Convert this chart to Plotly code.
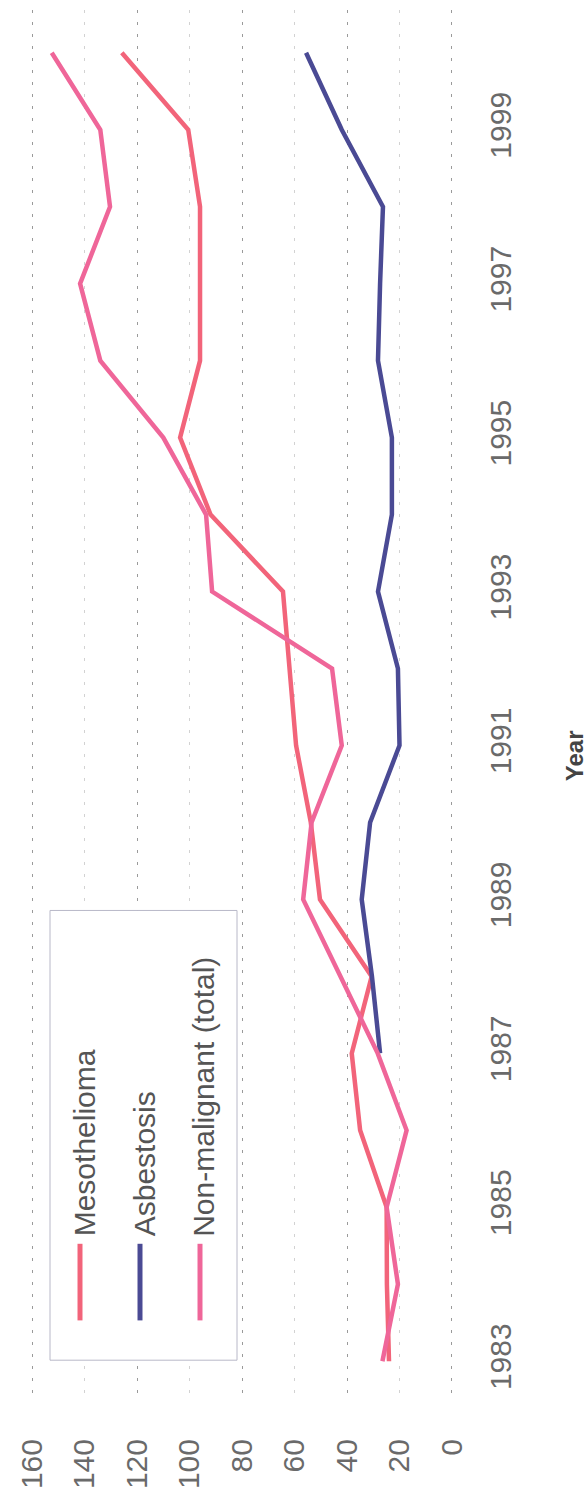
import plotly.graph_objects as go

# ---- data ----
years = list(range(1983, 2001))
mesothelioma = [24, 24.8, 24.9, 35, 38.2, 30.6, 50.3, 53.8, 59.4, 61.7, 64.4, 92,
                103.6, 96, 96, 96, 100.5, 125.8]
asbestosis = [None, None, None, None, 27.4, 30.5, 34.4, 31.2, 20.0, 20.6, 28.2, 22.9,
              22.9, 28.2, 27.4, 26.3, 42, 55.6]
non_malignant = [26.5, 20.6, 24.9, 17.3, 28.3, 42.4, 56.7, 53.5, 42, 45.7, 91.4, 93.7,
                 110, 134, 141.7, 130.3, 134, 152.5]
series_names = ["Mesothelioma", "Asbestosis", "Non-malignant (total)"]
series_colors = ["#F2647A", "#4A4A94", "#EF6699"]
value_ticks = [0, 20, 40, 60, 80, 100, 120, 140, 160]
value_ticks_major = [0, 40, 80, 120, 160]
year_ticks = list(range(1983, 2000, 2))
axis_title = "Year"

W, H = 587, 1499
L, R, T, B = 15, 468, 10, 1407
FONT = "Liberation Sans"

fig = go.Figure()
for name, vals, col in zip(series_names, [mesothelioma, asbestosis, non_malignant], series_colors):
    fig.add_trace(go.Scatter(x=vals, y=years, mode="lines", name=name,
                             line=dict(color=col, width=4.5), showlegend=False,
                             connectgaps=False))
# helper trace for the darker grid axis
fig.add_trace(go.Scatter(x=[None], y=[None], xaxis="x2", yaxis="y", showlegend=False,
                         hoverinfo="skip"))

xrange_ = [166.5, -6.1]
yrange_ = [1982.496, 2000.556]

fig.update_layout(
    width=W, height=H,
    margin=dict(l=L, r=W - R, t=T, b=H - B),
    paper_bgcolor="white", plot_bgcolor="white",
    xaxis=dict(range=xrange_, tickvals=value_ticks, ticktext=[str(v) for v in value_ticks],
               tickangle=-90, showgrid=True, gridcolor="#d2d2d2", griddash="3px,9px",
               gridwidth=1, zeroline=False, showline=False, ticks="",
               ticklabelstandoff=32,
               tickfont=dict(family=FONT, size=30, color="#6a6a6a")),
    xaxis2=dict(range=xrange_, overlaying="x", matches="x", tickvals=value_ticks_major,
                showticklabels=False, showgrid=True, gridcolor="#9a9a9a",
                griddash="3px,9px", gridwidth=1, zeroline=False, showline=False, ticks=""),
    yaxis=dict(range=yrange_, tickvals=year_ticks, side="right", tickangle=-90,
               showgrid=False, zeroline=False, showline=False, ticks="",
               ticklabelstandoff=12,
               tickfont=dict(family=FONT, size=30, color="#6a6a6a")),
)


def px2x(px):
    return (px - L) / (R - L)


def py2y(py):
    return (B - py) / (B - T)


# axis title placed beside the year labels
fig.add_annotation(text="<b>" + axis_title + "</b>", xref="paper", yref="paper",
                   x=px2x(574), y=py2y(760), xanchor="center", yanchor="middle",
                   textangle=-90, showarrow=False,
                   font=dict(family=FONT, size=24, color="#444"))

# legend box (rotated legend drawn by hand)
fig.add_shape(type="rect", xref="paper", yref="paper",
              x0=px2x(50), x1=px2x(237), y0=py2y(1367), y1=py2y(915),
              line=dict(color="#b8b8c8", width=1), fillcolor="white", layer="above")
leg_x_line = [80, 140, 200]
leg_x_text = [84, 144, 204]
for name, col, xl, xt in zip(series_names, series_colors, leg_x_line, leg_x_text):
    fig.add_shape(type="line", xref="paper", yref="paper",
                  x0=px2x(xl), x1=px2x(xl), y0=py2y(1327), y1=py2y(1250),
                  line=dict(color=col, width=5), layer="above")
    fig.add_annotation(text=name, xref="paper", yref="paper", x=px2x(xt), y=py2y(1245),
                       xanchor="center", yanchor="bottom", textangle=-90, showarrow=False,
                       font=dict(family=FONT, size=30, color="#555"))

fig.write_html("out.html")
